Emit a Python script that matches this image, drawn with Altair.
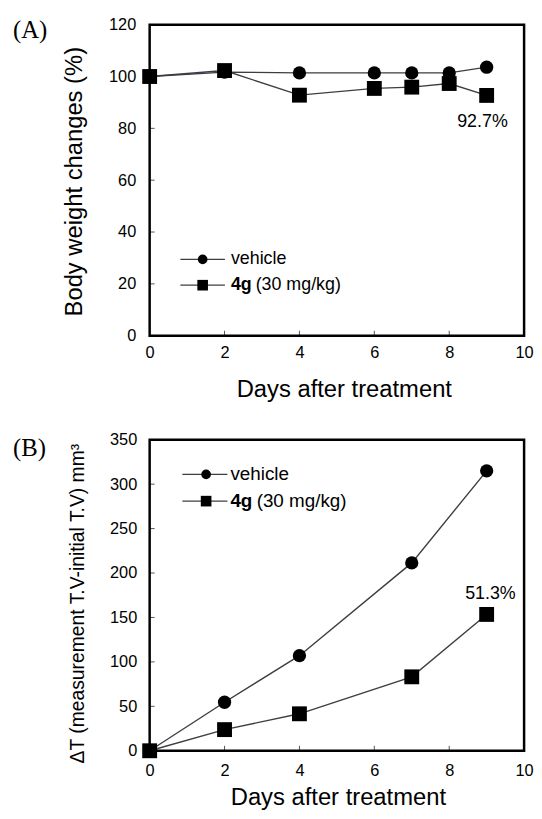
import altair as alt
import pandas as pd

# ---------------- data ----------------
days_a = [0, 2, 4, 6, 7, 8, 9]
bw_vehicle = [100.0, 101.7, 101.4, 101.4, 101.4, 101.4, 103.6]
bw_4g = [100.0, 102.3, 92.8, 95.4, 95.9, 97.3, 92.7]

days_b = [0, 2, 4, 7, 9]
tv_vehicle = [0.0, 54.6, 107.0, 211.4, 315.0]
tv_4g = [0.0, 23.8, 41.6, 83.2, 153.4]

series_names = ["vehicle", "4g"]
legend_bold = "4g"
legend_rest = "(30 mg/kg)"
note_a = "92.7%"
note_b = "51.3%"

x_ticks = [0, 2, 4, 6, 8, 10]
y_ticks_a = [0, 20, 40, 60, 80, 100, 120]
y_ticks_b = [0, 50, 100, 150, 200, 250, 300, 350]

FONT = "Liberation Sans"
SERIF = "Liberation Serif"
LINE_COLOR = "#3d3d45"
W = 378
H = 314


def make_df(days, v, g):
    rows = []
    for d, val in zip(days, v):
        rows.append({"day": d, "value": val, "series": series_names[0]})
    for d, val in zip(days, g):
        rows.append({"day": d, "value": val, "series": series_names[1]})
    return pd.DataFrame(rows)


one = pd.DataFrame({"k": [0]})


def panel(df, ymax, yticks, ytitle, ytitle_x, ytitle_y, ytitle_size,
          xtitle_x, xtitle_y, xlab_pad, ylab_pad, leg, note, note_xy, tag, tag_y):
    xs = alt.Scale(domain=[0, 10], nice=False, zero=False)
    ys = alt.Scale(domain=[0, ymax], nice=False)
    xenc = alt.X("day:Q", scale=xs, axis=alt.Axis(
        values=x_ticks, title="Days after treatment", titleFont=FONT,
        titleFontSize=24, titleFontWeight="normal", titleColor="black",
        titleX=xtitle_x, titleY=xtitle_y, titleBaseline="alphabetic",
        titleAlign="center", labelPadding=xlab_pad, grid=False, ticks=False,
        domain=False, labelFont=FONT, labelFontSize=16.5, labelColor="black",
        labelFlush=False, labelOverlap=False))
    yenc = alt.Y("value:Q", scale=ys, axis=alt.Axis(
        values=yticks, title=ytitle, titleFont=FONT, titleFontSize=ytitle_size,
        titleFontWeight="normal", titleColor="black", titleAngle=270,
        titleX=ytitle_x, titleY=ytitle_y, titleBaseline="alphabetic",
        titleAlign="center", labelPadding=ylab_pad, grid=False, ticks=False,
        domain=False, labelFont=FONT, labelFontSize=16.5, labelColor="black",
        labelFlush=False, labelOverlap=False))

    base = alt.Chart(df)
    lines = base.mark_line(color=LINE_COLOR, strokeWidth=1.4).encode(
        x=xenc, y=yenc, detail="series:N")
    circ = base.transform_filter(alt.datum.series == series_names[0]).mark_point(
        shape="circle", filled=True, color="black", size=180, opacity=1).encode(
        x=alt.X("day:Q", scale=xs), y=alt.Y("value:Q", scale=ys))
    sq = base.transform_filter(alt.datum.series == series_names[1]).mark_point(
        shape="square", filled=True, color="black", size=225, opacity=1).encode(
        x=alt.X("day:Q", scale=xs), y=alt.Y("value:Q", scale=ys))

    # frame
    frame = alt.Chart(one).mark_rect(filled=False, stroke="black", strokeWidth=2.5,
                                     fill=None).encode(
        x=alt.value(0), x2=alt.value(W), y=alt.value(0), y2=alt.value(H))

    # inward ticks
    xt = alt.Chart(pd.DataFrame({"t": x_ticks[1:-1]})).mark_rule(
        color="#555", strokeWidth=1).encode(
        x=alt.X("t:Q", scale=xs), y=alt.value(H), y2=alt.value(H - 5))
    yt = alt.Chart(pd.DataFrame({"t": yticks[1:-1]})).mark_rule(
        color="#555", strokeWidth=1).encode(
        y=alt.Y("t:Q", scale=ys), x=alt.value(0), x2=alt.value(5))

    # legend
    lx0, lx1, lmk, ltx, ltx2, r1, r2, lfs = leg
    lrule1 = alt.Chart(one).mark_rule(color=LINE_COLOR, strokeWidth=1.2).encode(
        x=alt.value(lx0), x2=alt.value(lx1), y=alt.value(r1))
    lrule2 = alt.Chart(one).mark_rule(color=LINE_COLOR, strokeWidth=1.2).encode(
        x=alt.value(lx0), x2=alt.value(lx1), y=alt.value(r2))
    lc = alt.Chart(one).mark_point(shape="circle", filled=True, color="black",
                                   size=95, opacity=1).encode(
        x=alt.value(lmk), y=alt.value(r1))
    ls = alt.Chart(one).mark_point(shape="square", filled=True, color="black",
                                   size=115, opacity=1).encode(
        x=alt.value(lmk), y=alt.value(r2))
    lt1 = alt.Chart(pd.DataFrame({"t": [series_names[0]]})).mark_text(
        font=FONT, fontSize=lfs, align="left", baseline="middle", color="black").encode(
        text="t:N", x=alt.value(ltx), y=alt.value(r1))
    lt2 = alt.Chart(pd.DataFrame({"t": [legend_bold]})).mark_text(
        font=FONT, fontSize=lfs, fontWeight="bold", align="left", baseline="middle",
        color="black").encode(text="t:N", x=alt.value(ltx), y=alt.value(r2))
    lt3 = alt.Chart(pd.DataFrame({"t": [legend_rest]})).mark_text(
        font=FONT, fontSize=lfs, align="left", baseline="middle", color="black").encode(
        text="t:N", x=alt.value(ltx2), y=alt.value(r2))

    nt = alt.Chart(pd.DataFrame({"t": [note]})).mark_text(
        font=FONT, fontSize=18, align="center", baseline="alphabetic", color="black").encode(
        text="t:N", x=alt.value(note_xy[0]), y=alt.value(note_xy[1]))
    tg = alt.Chart(pd.DataFrame({"t": [tag]})).mark_text(
        font=SERIF, fontSize=25, align="left", baseline="alphabetic", color="black").encode(
        text="t:N", x=alt.value(-138), y=alt.value(tag_y))

    return alt.layer(lines, xt, yt, frame, circ, sq, lrule1, lrule2, lc, ls, lt1, lt2,
                     lt3, nt, tg).properties(width=W, height=H)


pa = panel(make_df(days_a, bw_vehicle, bw_4g), 120, y_ticks_a,
           "Body weight changes (%)", -68.5, 158, 24,
           196, 61, 9, 14,
           (31, 76, 53.5, 82, 107, 237, 263, 18), note_a, (336, 103), "(A)", 13)
pb = panel(make_df(days_b, tv_vehicle, tv_4g), 350, y_ticks_b,
           "\u0394T (measurement T.V-initial T.V) mm\u00b3", -67, 165, 19.5,
           190, 54, 12, 13,
           (33, 78.5, 57, 81.5, 108, 35, 62, 19), note_b, (344, 161), "(B)", 16)

chart = alt.vconcat(pa, pb, spacing=105, bounds="flush").properties(
    padding={"left": 5, "top": 5, "right": 0, "bottom": 0},
    background="white"
).configure_view(stroke=None)

chart.save("out.html", embed_options={"renderer": "svg", "actions": False})
